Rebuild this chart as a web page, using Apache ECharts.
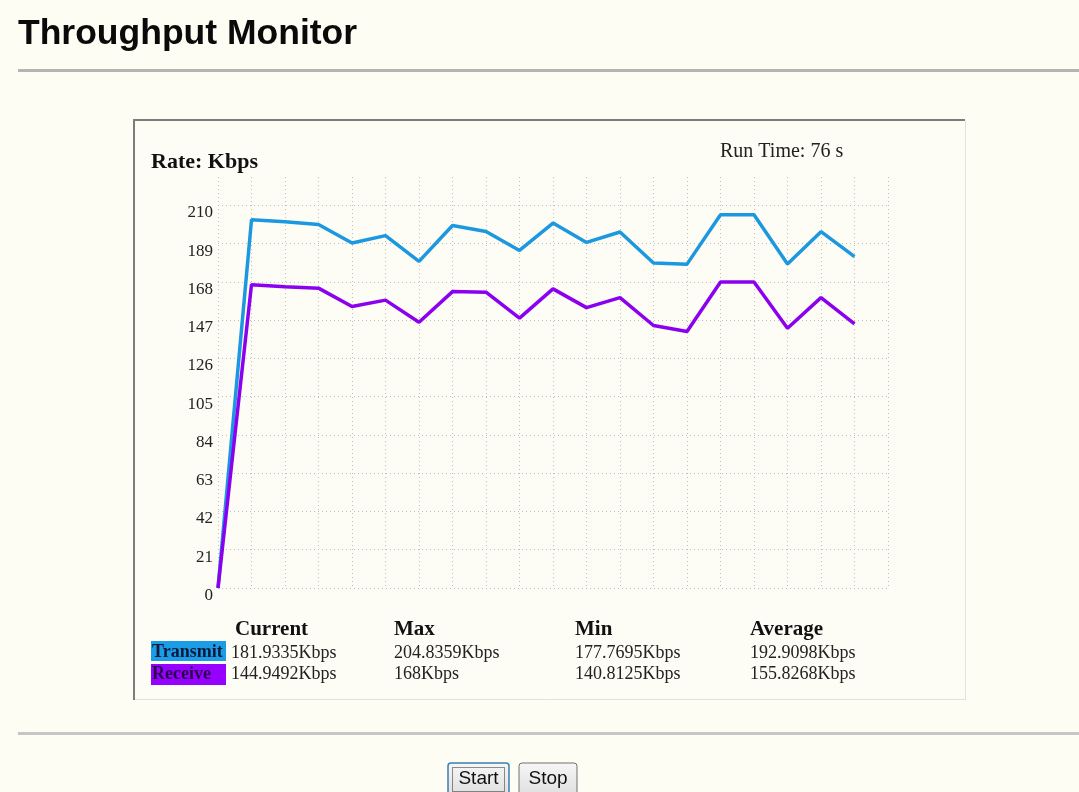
<!DOCTYPE html>
<html>
<head>
<meta charset="utf-8">
<title>Throughput Monitor</title>
<script src="https://cdn.jsdelivr.net/npm/echarts@6/dist/echarts.min.js"></script>
<style>
  html, body { margin: 0; padding: 0; background: #fdfdf4; }
  #throughputChart { width: 1079px; height: 792px; }
</style>
</head>
<body>
<div id="throughputChart"></div>
<script>
var runTimes = [0, 4, 8, 12, 16, 20, 24, 28, 32, 36, 40, 44, 48, 52, 56, 60, 64, 68, 72, 76];
var transmitKbps = [0, 202.1, 201.0, 199.5, 189.4, 193.4, 179.3, 199.0, 195.7, 185.3,
                    200.3, 189.7, 195.4, 178.4, 177.7695, 204.8359, 204.8359, 177.9, 195.6, 181.9335];
var receiveKbps = [0, 166.5, 165.3, 164.6, 154.5, 158.0, 145.9, 162.7, 162.4, 148.1,
                   164.2, 153.9, 159.4, 144.1, 140.8125, 168, 168, 142.6, 159.4, 144.9492];

// stats table
var statHeaders = ['Current', 'Max', 'Min', 'Average'];
var transmitStats = ['181.9335Kbps', '204.8359Kbps', '177.7695Kbps', '192.9098Kbps'];
var receiveStats = ['144.9492Kbps', '168Kbps', '140.8125Kbps', '155.8268Kbps'];
var runTimeText = 'Run Time: 76 s';

var serif = "'Liberation Serif', 'Times New Roman', serif";
var sans = "'Liberation Sans', Arial, sans-serif";
var blue = '#1b98e0';
var purple = '#8c00f0';

function pairs(xs, ys) {
  var res = [];
  for (var i = 0; i < xs.length; i++) {
    res.push([xs[i], ys[i]]);
  }
  return res;
}

// table columns (x positions of each stat column)
var colX = [231, 394, 575, 750];
var btnFill = function () {
  return new echarts.graphic.LinearGradient(0, 0, 0, 1, [{ offset: 0, color: '#f7f7f7' }, { offset: 1, color: '#dcdcdc' }]);
};
var graphics = [
  // title + separators
  { type: 'text', x: 18, y: 34, style: { text: 'Throughput Monitor', font: 'bold 35.5px ' + sans, fill: '#0a0a0a', verticalAlign: 'middle' } },
  { type: 'rect', shape: { x: 18, y: 69, width: 1061, height: 3 }, style: { fill: '#b4b4b4' } },
  { type: 'rect', shape: { x: 18, y: 732, width: 1061, height: 3 }, style: { fill: '#c6c6c6' } },
  // chart panel
  { type: 'rect', z: -10, shape: { x: 133, y: 119, width: 832, height: 581 }, style: { fill: '#fdfdf5' } },
  { type: 'line', z: -9, shape: { x1: 133, y1: 120, x2: 965, y2: 120 }, style: { stroke: '#7c7c7c', lineWidth: 2 } },
  { type: 'line', z: -9, shape: { x1: 134, y1: 119, x2: 134, y2: 700 }, style: { stroke: '#7c7c7c', lineWidth: 2 } },
  { type: 'line', z: -9, shape: { x1: 965.5, y1: 121, x2: 965.5, y2: 700 }, style: { stroke: '#e2e2dc', lineWidth: 1 } },
  { type: 'line', z: -9, shape: { x1: 135, y1: 699.5, x2: 966, y2: 699.5 }, style: { stroke: '#e2e2dc', lineWidth: 1 } },
  { type: 'text', x: 151, y: 162, style: { text: 'Rate: Kbps', font: 'bold 22px ' + serif, fill: '#111', verticalAlign: 'middle' } },
  { type: 'text', x: 720, y: 152, style: { text: runTimeText, font: '20px ' + serif, fill: '#222', verticalAlign: 'middle' } },
  // legend swatches
  { type: 'rect', shape: { x: 151, y: 641, width: 75, height: 20 }, style: { fill: '#1a9de6' } },
  { type: 'rect', shape: { x: 151, y: 664, width: 75, height: 21 }, style: { fill: '#9600ff' } },
  { type: 'text', x: 152, y: 652.5, style: { text: 'Transmit', font: 'bold 18px ' + serif, fill: '#0e1838', verticalAlign: 'middle' } },
  { type: 'text', x: 152, y: 674.5, style: { text: 'Receive', font: 'bold 18px ' + serif, fill: '#2c004c', verticalAlign: 'middle' } },
  // buttons
  { type: 'rect', shape: { x: 448, y: 763, width: 61, height: 36, r: 3 },
    style: { fill: btnFill(), stroke: '#3c7fb1', lineWidth: 1.5 } },
  { type: 'rect', shape: { x: 452.5, y: 767.5, width: 52, height: 24 }, style: { fill: null, stroke: '#222', lineWidth: 1, lineDash: [1, 1] } },
  { type: 'text', x: 478.5, y: 779, style: { text: 'Start', font: '19px ' + sans, fill: '#111', align: 'center', verticalAlign: 'middle' } },
  { type: 'rect', shape: { x: 519, y: 763, width: 58, height: 36, r: 3 },
    style: { fill: btnFill(), stroke: '#707070', lineWidth: 1 } },
  { type: 'text', x: 548, y: 779, style: { text: 'Stop', font: '19px ' + sans, fill: '#111', align: 'center', verticalAlign: 'middle' } }
];

for (var c = 0; c < statHeaders.length; c++) {
  graphics.push({ type: 'text', x: colX[c] + (c === 0 ? 4 : 0), y: 629.5,
    style: { text: statHeaders[c], font: 'bold 21px ' + serif, fill: '#111', verticalAlign: 'middle' } });
  graphics.push({ type: 'text', x: colX[c], y: 653.5,
    style: { text: transmitStats[c], font: '18px ' + serif, fill: '#222', verticalAlign: 'middle' } });
  graphics.push({ type: 'text', x: colX[c], y: 674.5,
    style: { text: receiveStats[c], font: '18px ' + serif, fill: '#222', verticalAlign: 'middle' } });
}

var myChart = echarts.init(document.getElementById('throughputChart'));
var option = {
  animation: false,
  backgroundColor: '#fdfdf4',
  grid: { left: 218, right: 191, top: 177, bottom: 204 },
  xAxis: {
    type: 'value',
    min: 0,
    max: 80,
    interval: 4,
    axisLine: { show: false },
    axisTick: { show: false },
    axisLabel: { show: false },
    splitLine: { show: true, showMinLine: true, showMaxLine: true, lineStyle: { color: '#bdbdbd', type: [1, 3], width: 1 } }
  },
  yAxis: {
    type: 'value',
    min: 0,
    max: 225.6,
    interval: 21,
    axisLine: { show: false },
    axisTick: { show: false },
    axisLabel: {
      showMaxLabel: false,
      margin: 5,
      verticalAlign: 'top',
      lineHeight: 15,
      fontFamily: serif,
      fontSize: 17,
      color: '#222'
    },
    splitLine: { show: true, showMaxLine: false, lineStyle: { color: '#bdbdbd', type: [1, 3], width: 1 } }
  },
  series: [
    {
      name: 'Transmit',
      type: 'line',
      data: pairs(runTimes, transmitKbps),
      showSymbol: false,
      lineStyle: { color: blue, width: 3.5 },
      itemStyle: { color: blue }
    },
    {
      name: 'Receive',
      type: 'line',
      data: pairs(runTimes, receiveKbps),
      showSymbol: false,
      lineStyle: { color: purple, width: 3.5 },
      itemStyle: { color: purple }
    }
  ],
  graphic: graphics
};
myChart.setOption(option);
</script>
</body>
</html>
